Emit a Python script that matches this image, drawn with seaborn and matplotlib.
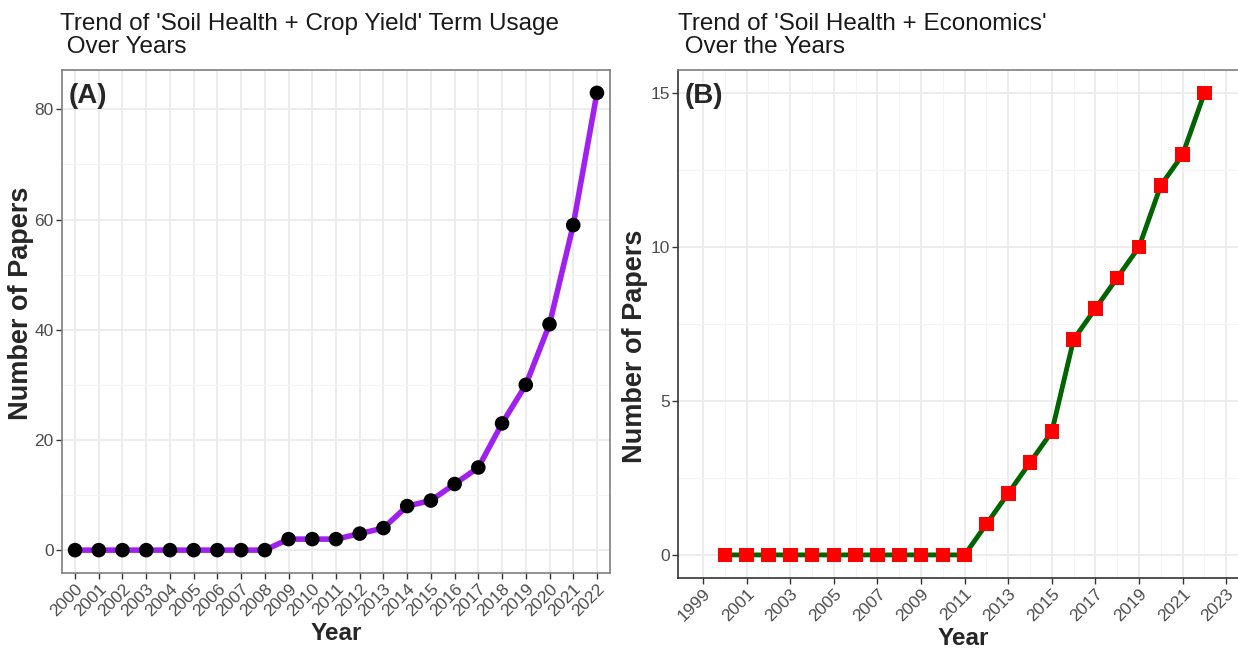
import numpy as np
import pandas as pd
import matplotlib
matplotlib.use("Agg")
import matplotlib.pyplot as plt
import seaborn as sns

# ---- data ----
years_a = list(range(2000, 2023))
papers_a = [0, 0, 0, 0, 0, 0, 0, 0, 0, 2, 2, 2, 3, 4, 8, 9, 12, 15, 23, 30, 41, 59, 83]

years_b = list(range(2000, 2023))
papers_b = [0, 0, 0, 0, 0, 0, 0, 0, 0, 0, 0, 0, 1, 2, 3, 4, 7, 8, 9, 10, 12, 13, 15]

title_a = "Trend of 'Soil Health + Crop Yield' Term Usage\n Over Years"
title_b = "Trend of 'Soil Health + Economics'\n Over the Years"
label_a = "(A)"
label_b = "(B)"
xlabel = "Year"
ylabel = "Number of Papers"
yticks_a = [0, 20, 40, 60, 80]
yticks_b = [0, 5, 10, 15]
xticks_b = list(range(1999, 2024, 2))

sns.set_theme(style="whitegrid")
plt.rcParams['font.family'] = ['Liberation Sans', 'DejaVu Sans']

W, H = 1238, 648
fig = plt.figure(figsize=(W / 100, H / 100), dpi=100)

def fx(px):
    return px / W

def fy(py):
    return 1 - py / H

ax_a = fig.add_axes([fx(62), fy(573), fx(610 - 62), fy(70) - fy(573)])
ax_b = fig.add_axes([fx(678), fy(578), fx(1248 - 678), fy(70) - fy(578)])

grey_tick = "#4D4D4D"
major_grid = "#EBEBEB"
minor_grid = "#F4F4F4"

def style(ax):
    ax.set_facecolor("white")
    for s in ax.spines.values():
        s.set_visible(True)
        s.set_color("#7F7F7F")
        s.set_linewidth(1.2)
    ax.grid(True, which="major", color=major_grid, linewidth=1.3, zorder=0)
    ax.grid(True, which="minor", color=minor_grid, linewidth=0.8, zorder=0)
    ax.tick_params(axis="both", which="major", length=4, width=1, color="#333333",
                   labelcolor=grey_tick, labelsize=12.5, bottom=True, left=True, pad=2)
    ax.tick_params(axis="both", which="minor", length=0)
    ax.set_axisbelow(True)

# ---- panel A ----
df_a = pd.DataFrame({"Year": years_a, "Papers": papers_a})
sns.lineplot(data=df_a, x="Year", y="Papers", ax=ax_a, color="#A020F0", linewidth=4, zorder=2)
sns.scatterplot(data=df_a, x="Year", y="Papers", ax=ax_a, color="black", s=110,
                edgecolor="none", zorder=3)
style(ax_a)
ax_a.set_xlim(1999.45, 2022.55)
ax_a.set_ylim(-4.15, 87.15)
ax_a.set_xticks(years_a)
ax_a.set_xticklabels([str(y) for y in years_a], rotation=45, ha="right",
                     rotation_mode="anchor")
ax_a.set_yticks(yticks_a)
ax_a.set_yticks([10, 30, 50, 70], minor=True)
ax_a.set_xlabel(xlabel, fontsize=17.5, fontweight="bold", labelpad=2)
ax_a.set_ylabel(ylabel, fontsize=19.5, fontweight="bold")
ax_a.yaxis.set_label_coords((34 - 62) / 548, 1 - (303 - 70) / 503)
ax_a.text(0.012, 0.975, label_a, transform=ax_a.transAxes, fontsize=20,
          fontweight="bold", va="top", ha="left")

# ---- panel B ----
df_b = pd.DataFrame({"Year": years_b, "Papers": papers_b})
sns.lineplot(data=df_b, x="Year", y="Papers", ax=ax_b, color="#006400", linewidth=3.5, zorder=2)
sns.scatterplot(data=df_b, x="Year", y="Papers", ax=ax_b, color="#FF0000", s=110,
                marker="s", edgecolor="none", zorder=3)
style(ax_b)
ax_b.spines["left"].set_color("#333333")
ax_b.spines["bottom"].set_color("#333333")
ax_b.set_xlim(1997.85, 2024.0)
ax_b.set_ylim(-0.75, 15.75)
ax_b.set_xticks(xticks_b)
ax_b.set_xticks(list(range(2000, 2025, 2)), minor=True)
ax_b.set_xticklabels([str(y) for y in xticks_b], rotation=45, ha="right",
                     rotation_mode="anchor")
ax_b.set_yticks(yticks_b)
ax_b.set_yticks([2.5, 7.5, 12.5], minor=True)
ax_b.set_xlabel(xlabel, fontsize=17.5, fontweight="bold", labelpad=2)
ax_b.set_ylabel(ylabel, fontsize=19.5, fontweight="bold")
ax_b.yaxis.set_label_coords((648 - 678) / 570, 1 - (346 - 70) / 508)
ax_b.text(0.012, 0.975, label_b, transform=ax_b.transAxes, fontsize=20,
          fontweight="bold", va="top", ha="left")

# titles
fig.text(fx(60), fy(13), title_a, fontsize=17.5, va="top", ha="left", color="#1a1a1a",
         linespacing=1.05)
fig.text(fx(678), fy(13), title_b, fontsize=17.5, va="top", ha="left", color="#1a1a1a",
         linespacing=1.05)

fig.savefig("out.png", dpi=100, facecolor="white")
